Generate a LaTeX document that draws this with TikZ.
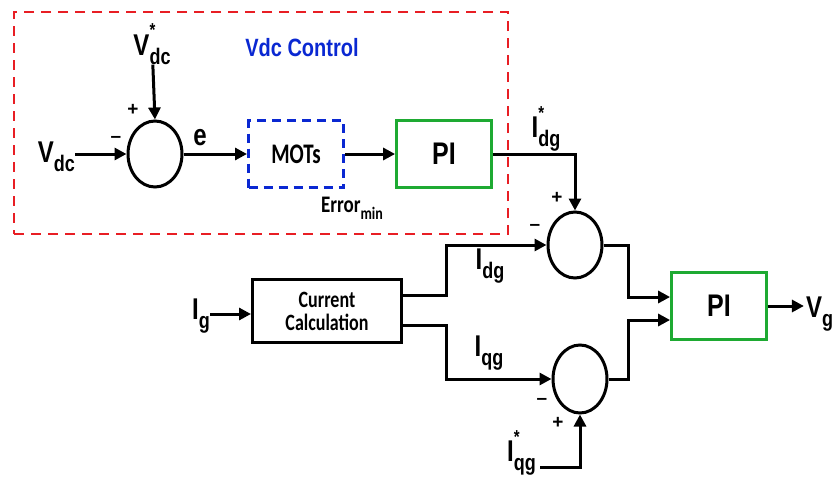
\documentclass[tikz,border=0pt]{standalone}
\usepackage{graphicx}
\usepackage{fontspec}
\setmainfont{Liberation Sans}
\newfontfamily\calfont{Carlito}
\usetikzlibrary{shapes.geometric,arrows.meta}
\definecolor{rdash}{RGB}{232,30,36}
\definecolor{bdash}{RGB}{10,40,210}
\definecolor{gbox}{RGB}{30,170,50}
\newcommand\tall[1]{\scalebox{1}[1.25]{#1}}
\newcommand\lab[3]{\tall{#1\rlap{\raisebox{0.62em}{\fontsize{15}{15}\selectfont #3}}\raisebox{-0.3em}{\fontsize{18}{18}\selectfont #2}}}
\begin{document}
\begin{tikzpicture}[x=1pt,y=-1pt,
  sumj/.style={ellipse,draw,line width=3pt,minimum width=54pt,minimum height=66pt,inner sep=0pt},
  blk/.style={draw,line width=3pt,minimum width=95pt,minimum height=67pt,inner sep=0pt},
  pibox/.style={blk,draw=gbox,line width=2.8pt,font=\fontsize{25}{25}\selectfont\bfseries},
  conn/.style={line width=3pt,-{Triangle[length=12pt,width=12pt]}},
  lbl/.style={font=\fontsize{24}{24}\selectfont\bfseries,inner sep=0pt},
  sgn/.style={font=\fontsize{19}{19}\selectfont\bfseries,inner sep=0pt}]
\useasboundingbox (0,0) rectangle (835,479);
\fill[white] (0,0) rectangle (835,479);
% group box
\node[draw=rdash,line width=2.8pt,dash pattern=on 10pt off 7pt,minimum width=494pt,minimum height=222pt] (grp) at (261,123) {};
\node[font=\fontsize{20}{20}\selectfont\bfseries,text=bdash] (title) at (302,48) {\tall{Vdc Control}};
% first summing junction
\node[sumj] (s1) at (155,154) {};
\node[lbl] (vdcstar) at (152,44) {\lab{V}{dc}{*}};
\node[lbl,anchor=east] (vdc) at (75,157) {\lab{V}{dc}{}};
\node[sgn] (p1) at (133,110) {+};
\node[sgn] (m1) at (116,139) {–};
\node[lbl] (e) at (200,138) {\tall{e}};
\node[blk,draw=bdash,dash pattern=on 9pt off 6pt,font=\calfont\fontsize{21}{21}\selectfont\bfseries] (mots) at (296,154) {\scalebox{1}[1.35]{MOTs}};
\node[font=\calfont\fontsize{19}{19}\selectfont\bfseries,inner sep=0pt] (err) at (352,208) {\tall{Error\raisebox{-0.3em}{\fontsize{14}{14}\selectfont min}}};
\node[pibox] (pi1) at (444,154) {\tall{PI}};
\draw[conn] (vdcstar) -- (s1.north);
\draw[conn] (vdc.east |- s1.west) -- (s1.west);
\draw[conn] (s1.east) -- (mots.west);
\draw[conn] (mots.east) -- (pi1.west);
% second stage
\node[sumj] (s2) at (575,245) {};
\node[sumj,minimum height=68pt] (s3) at (580,379) {};
\node[lbl] (idgstar) at (546,129) {\lab{I}{dg}{*}};
\node[sgn] (p2) at (557,198) {+};
\node[sgn] (m2) at (535,227) {–};
\node[sgn] (m3) at (542,401) {–};
\node[sgn] (p3) at (558,423) {+};
\draw[conn] (pi1.east) -| (s2.north);
\node[blk,minimum width=149pt,minimum height=63pt,align=center,font=\calfont\fontsize{18}{23}\selectfont\bfseries] (cc) at (327,311) {\scalebox{1}[1.3]{Current}\\\scalebox{1}[1.3]{Calculation}};
\node[lbl,anchor=east] (ig) at (210,316) {\lab{I}{g}{}};
\coordinate (ccin) at ([yshift=-3pt]cc.west);
\draw[conn] (ig.east |- ccin) -- (ccin);
\node[lbl] (idg) at (490,266) {\lab{I}{dg}{}};
\node[lbl] (iqg) at (489,353) {\lab{I}{qg}{}};
\draw[conn] ([yshift=16pt]cc.east) -- ++(43,0) |- (s2.west);
\draw[conn] ([yshift=-14pt]cc.east) -- ++(43,0) |- (s3.west);
\node[lbl,anchor=east] (iqgstar) at (536,453) {\lab{I}{qg}{*}};
\draw[conn] ([yshift=-14pt,xshift=4pt]iqgstar.east) -| (s3.south);
\node[pibox] (pi2) at (719,306) {\tall{PI}};
\draw[conn] (s2.east) -- ++(25,0) |- ([yshift=9pt]pi2.west);
\draw[conn] (s3.east) -- ++(20,0) |- ([yshift=-14pt]pi2.west);
\node[lbl,anchor=west] (vg) at (806,314) {\lab{V}{g}{}};
\draw[conn] (pi2.east) -- ++(36,0);
\end{tikzpicture}
\end{document}
